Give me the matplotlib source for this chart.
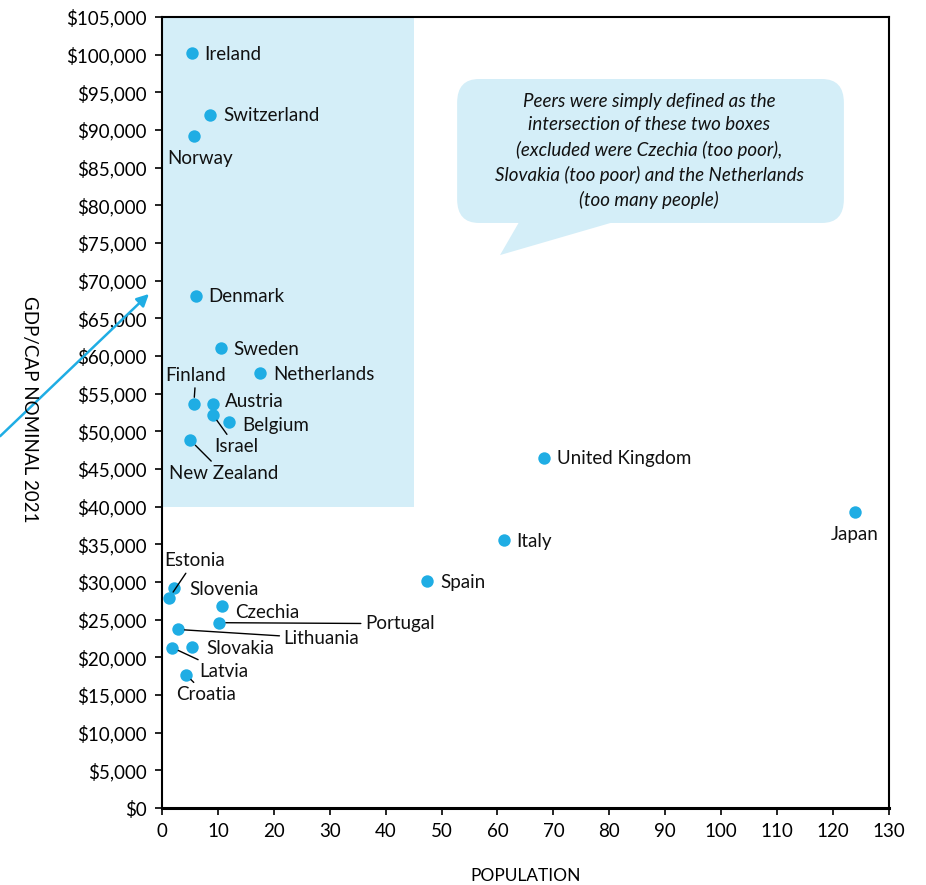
import matplotlib.pyplot as plt
from matplotlib.patches import Rectangle, FancyBboxPatch, Polygon
from matplotlib.ticker import MultipleLocator, StrMethodFormatter

plt.rcParams['font.family'] = ['Lato', 'DejaVu Sans']

countries = ["Ireland", "Switzerland", "Norway", "Denmark", "Sweden", "Netherlands",
             "Finland", "Austria", "Israel", "Belgium", "New Zealand", "United Kingdom",
             "Japan", "Italy", "Spain", "Estonia", "Slovenia", "Czechia", "Portugal",
             "Lithuania", "Slovakia", "Latvia", "Croatia"]
population = [5.4, 8.6, 5.7, 6.1, 10.5, 17.6, 5.7, 9.1, 9.1, 12.0, 5.1, 68.3,
              123.9, 61.2, 47.4, 1.3, 2.1, 10.7, 10.2, 2.8, 5.4, 1.8, 4.3]
gdp_cap = [100200, 92000, 89200, 68000, 61000, 57800, 53600, 53600, 52200, 51200,
           48800, 46500, 39300, 35600, 30100, 27900, 29200, 26800, 24600, 23700,
           21400, 21300, 17700]

# label offsets in pixels, alignment, leader line
label_pos = {
    "Ireland": (12, -1, "left", False),
    "Switzerland": (13, -1, "left", False),
    "Norway": (6, -22, "center", False),
    "Denmark": (12, -1, "left", False),
    "Sweden": (13, -1, "left", False),
    "Netherlands": (13, -2, "left", False),
    "Finland": (2, 29, "center", True),
    "Austria": (12, 3, "left", False),
    "Israel": (23, -32, "center", True),
    "Belgium": (13, -3, "left", False),
    "New Zealand": (33, -33, "center", True),
    "United Kingdom": (13, -1, "left", False),
    "Japan": (0, -23, "center", False),
    "Italy": (12, -2, "left", False),
    "Spain": (13, -1, "left", False),
    "Estonia": (25, 37, "center", True),
    "Slovenia": (16, -1, "left", False),
    "Czechia": (13, -6, "left", False),
    "Portugal": (146, -1, "left", True),
    "Lithuania": (106, -9, "left", True),
    "Slovakia": (14, -2, "left", False),
    "Latvia": (27, -24, "left", True),
    "Croatia": (20, -20, "center", True),
}

blue = "#1FADE4"
light = "#D4EEF8"

fig = plt.figure(figsize=(9.26, 8.85), dpi=100)
ax = fig.add_axes([0.1749, 0.087, 0.7851, 0.8938])

ax.add_patch(Rectangle((0, 40000), 45, 65000, facecolor=light, edgecolor="none", zorder=0))

ax.scatter(population, gdp_cap, s=80, color=blue, zorder=3, linewidths=0)

for name, x, y in zip(countries, population, gdp_cap):
    dx, dy, ha, line = label_pos[name]
    props = None
    if line:
        props = dict(arrowstyle="-", color="black", lw=1, shrinkA=1, shrinkB=5)
    ax.annotate(name, (x, y), xytext=(dx, dy), textcoords="offset pixels",
                ha=ha, va="center", fontsize=13.5, color="#111111",
                arrowprops=props, zorder=4)

# speech bubble
bubble = FancyBboxPatch((0.406, 0.7396), 0.532, 0.182, transform=ax.transAxes,
                        boxstyle="round,pad=0,rounding_size=0.03",
                        facecolor=light, edgecolor="none", zorder=1)
ax.add_patch(bubble)
tail = Polygon([(0.492, 0.742), (0.465, 0.699), (0.626, 0.742)], closed=True,
               transform=ax.transAxes, facecolor=light, edgecolor="none", zorder=1)
ax.add_patch(tail)
ax.text(0.67, 0.8306,
        "Peers were simply defined as the\nintersection of these two boxes\n"
        "(excluded were Czechia (too poor),\nSlovakia (too poor) and the Netherlands\n"
        "(too many people)",
        transform=ax.transAxes, ha="center", va="center", style="italic",
        fontsize=13.5, linespacing=1.48, color="#111111", zorder=2)

ax.set_xlim(0, 130)
ax.set_ylim(0, 105000)
ax.xaxis.set_major_locator(MultipleLocator(10))
ax.yaxis.set_major_locator(MultipleLocator(5000))
ax.yaxis.set_major_formatter(StrMethodFormatter("${x:,.0f}"))
ax.tick_params(labelsize=13.5, length=5, width=1.2, colors="black", pad=6)
for sp in ax.spines.values():
    sp.set_linewidth(1.5)
ax.spines["bottom"].set_linewidth(2.2)

ax.set_xlabel("POPULATION", fontsize=12.5, labelpad=20)

fig.text(0.032, 0.537, "GDP/CAP NOMINAL 2021", rotation=270, ha="center", va="center",
         fontsize=13.5)

ax.annotate("", xy=(0.163, 0.670), xycoords="figure fraction",
            xytext=(-0.002, 0.505), textcoords="figure fraction",
            arrowprops=dict(arrowstyle="-|>", color=blue, lw=1.8, mutation_scale=18))

fig.savefig("out.png", dpi=100)
